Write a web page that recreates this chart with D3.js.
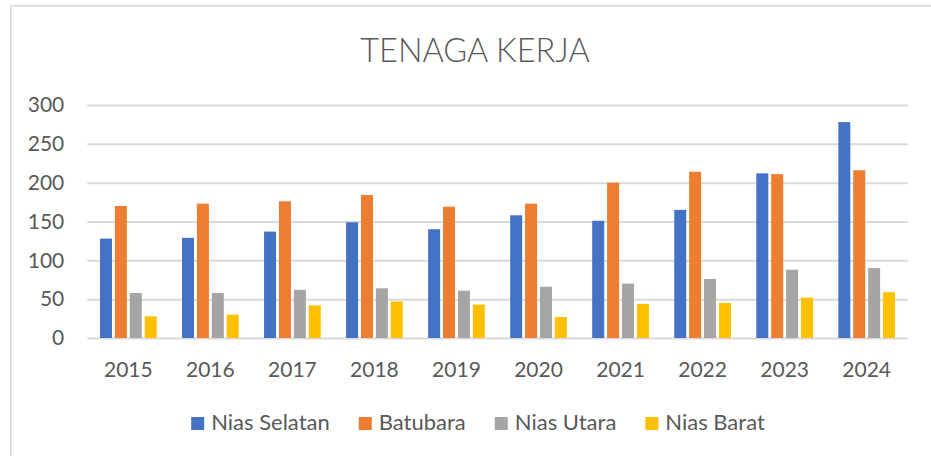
<!DOCTYPE html>
<html>
<head>
<meta charset="utf-8">
<script src="https://cdn.jsdelivr.net/npm/d3@7/dist/d3.min.js"></script>
<style>
  html, body { margin: 0; padding: 0; background: #fff; }
  svg { display: block; }
  text { font-family: Lato, "Open Sans", sans-serif; fill: #595959; }
</style>
</head>
<body>
<svg id="chart" width="931" height="456"></svg>
<script>
// ---- data ----
const years = ["2015","2016","2017","2018","2019","2020","2021","2022","2023","2024"];
const seriesNames = ["Nias Selatan","Batubara","Nias Utara","Nias Barat"];
const niasSelatan = [128,129,137,149,140,158,151,165,212,278];
const batubara    = [170,173,176,184,169,173,200,214,211,216];
const niasUtara   = [58,58,62,64,61,66,70,76,88,90];
const niasBarat   = [28,30,42,47,43,27,44,45,52,59];
const yTicks = [0,50,100,150,200,250,300];
const titleText = "TENAGA KERJA";

const seriesValues = [niasSelatan, batubara, niasUtara, niasBarat];
const colors = ["#4472C4","#ED7D31","#A5A5A5","#FFC000"];

const svg = d3.select("#chart");

// chart border (extends beyond the viewport on right/bottom)
svg.append("rect")
  .attr("x", 10.75).attr("y", 5.75)
  .attr("width", 960).attr("height", 500)
  .attr("fill", "#fff")
  .attr("stroke", "#d9d9d9").attr("stroke-width", 1.5);

const plot = { left: 87.3, right: 907.7, top: 105, bottom: 338 };

const x = d3.scaleBand().domain(years).range([plot.left, plot.right]).paddingInner(0).paddingOuter(0);
const xs = d3.scaleBand().domain(seriesNames).range([0, x.bandwidth()]).paddingInner(0.195).paddingOuter(0.85);
const y = d3.scaleLinear().domain([0, 300]).range([plot.bottom, plot.top]);

// gridlines
const grid = svg.append("g").attr("transform", `translate(${plot.left},0)`)
  .call(d3.axisLeft(y).tickValues(yTicks).tickSize(-(plot.right - plot.left)).tickFormat(""));
grid.select(".domain").remove();
grid.selectAll(".tick line").attr("stroke", "#d9d9d9").attr("stroke-width", 2);

// y axis labels
const yAxis = svg.append("g").attr("transform", `translate(${plot.left},0)`)
  .call(d3.axisLeft(y).tickValues(yTicks).tickSize(0).tickPadding(23));
yAxis.select(".domain").remove();
yAxis.selectAll("text").attr("font-size", 21).attr("fill", "#595959")
  .style("font-family", "Lato, sans-serif");

// bars
const rows = years.map((yr, i) => ({ year: yr, vals: seriesNames.map((s, j) => ({ key: s, value: seriesValues[j][i], c: colors[j] })) }));
const groups = svg.append("g").selectAll("g").data(rows).join("g")
  .attr("transform", d => `translate(${x(d.year)},0)`);
groups.selectAll("rect").data(d => d.vals).join("rect")
  .attr("x", d => xs(d.key))
  .attr("width", xs.bandwidth())
  .attr("y", d => y(d.value))
  .attr("height", d => y(0) - y(d.value))
  .attr("fill", d => d.c);

// x axis labels
const xAxis = svg.append("g").attr("transform", `translate(0,${plot.bottom})`)
  .call(d3.axisBottom(x).tickSize(0));
xAxis.select(".domain").remove();
xAxis.selectAll("text").attr("y", 39.3).attr("dy", 0)
  .attr("font-size", 21).attr("fill", "#595959")
  .style("font-family", "Lato, sans-serif");

// title
svg.append("text")
  .attr("x", 475).attr("y", 61.7)
  .attr("text-anchor", "middle")
  .attr("font-size", 32.5)
  .attr("font-weight", 300)
  .text(titleText);

// legend
const legend = svg.append("g");
const items = legend.selectAll("g").data(seriesNames).join("g");
items.append("rect").attr("width", 13).attr("height", 13).attr("y", 417)
  .attr("fill", (d, i) => colors[i]);
items.append("text").attr("y", 430).attr("font-size", 22).text(d => d);
// layout legend horizontally, centered
let widths = [];
items.each(function () { widths.push(d3.select(this).select("text").node().getComputedTextLength()); });
const sqW = 13, gapT = 7, gapItem = 29;
const total = widths.reduce((a, w) => a + sqW + gapT + w, 0) + gapItem * (widths.length - 1);
let cx = 478 - total / 2;
items.each(function (d, i) {
  const g = d3.select(this);
  g.select("rect").attr("x", cx);
  g.select("text").attr("x", cx + sqW + gapT);
  cx += sqW + gapT + widths[i] + gapItem;
});
</script>
</body>
</html>
